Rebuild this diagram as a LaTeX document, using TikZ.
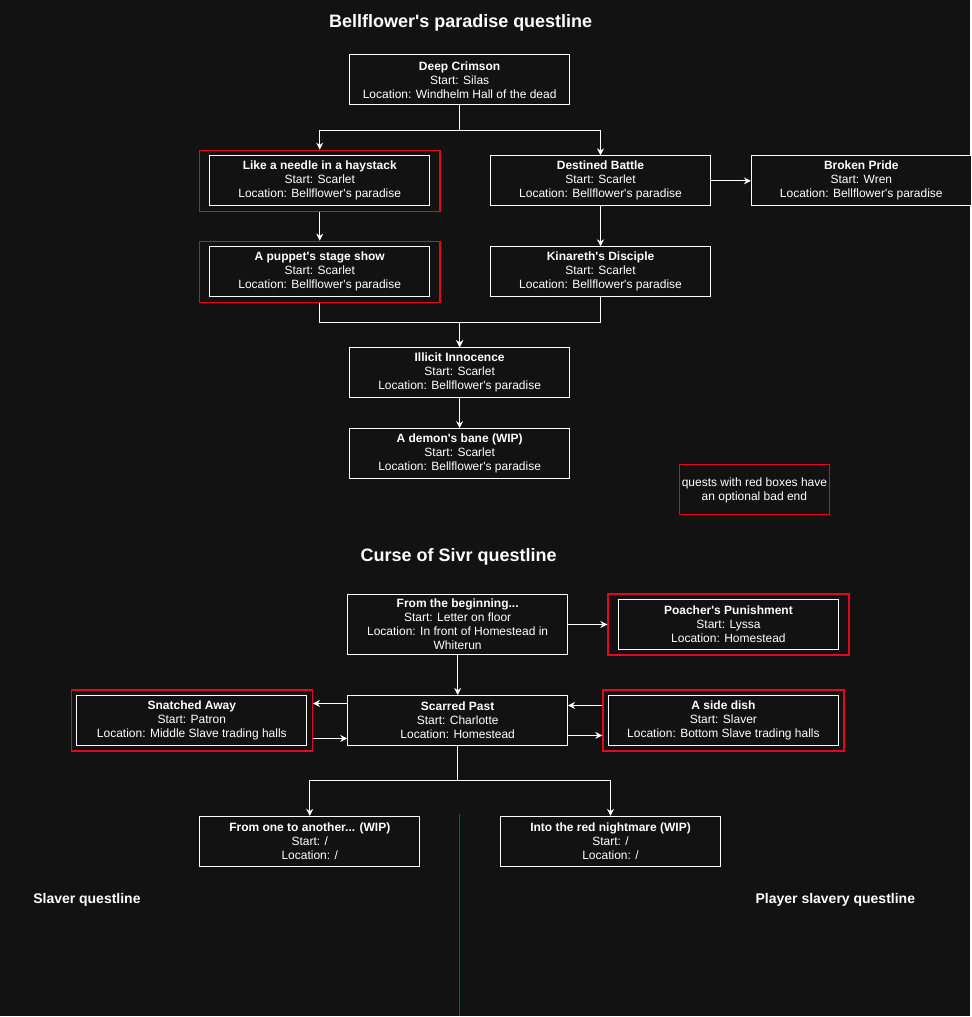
\documentclass[tikz,border=0pt]{standalone}
\usepackage{fontspec}
\setmainfont{Liberation Sans}[Ligatures=TeXOff]
\usetikzlibrary{arrows.meta,positioning,fit}
\definecolor{Ink}{HTML}{121212}
\definecolor{Alarm}{HTML}{E8061E}
\definecolor{Divider}{HTML}{B8122C}
\tikzset{
  arr/.style={-{Stealth[length=7pt,width=7pt]},line width=1pt,draw=white},
  questbox/.style={draw=white,line width=1pt,fill=Ink,text=white,minimum width=220pt,minimum height=50pt,align=center,inner sep=1pt,font=\fontsize{12}{14}\selectfont},
  widebox/.style={minimum width=230pt},
  redframe/.style={draw=Alarm,line width=1.4pt,inner xsep=10pt,inner ysep=5pt},
  tightframe/.style={redframe,inner xsep=5pt},
  heading/.style={text=white,font=\fontsize{18}{21}\selectfont\bfseries},
  sidelabel/.style={text=white,font=\fontsize{14}{16}\selectfont\bfseries}
}
\begin{document}
\begin{tikzpicture}[x=1pt,y=-1pt]
  \fill[Ink] (0,0) rectangle (971,1017);
  % Bellflower's paradise
  \node[heading] (titleA) at (461,23) {Bellflower's paradise questline};
  \node[questbox] (deep) at (460,80) {\textbf{Deep Crimson}\\Start: Silas\\Location: Windhelm Hall of the dead};
  \node[questbox,below=50pt of deep,xshift=-140pt] (needle) {\textbf{Like a needle in a haystack}\\Start: Scarlet\\Location: Bellflower's paradise};
  \node[redframe,fit=(needle)] (needleR) {};
  \node[questbox,right=60pt of needle] (destined) {\textbf{Destined Battle}\\Start: Scarlet\\Location: Bellflower's paradise};
  \node[questbox,right=40pt of destined] (broken) {\textbf{Broken Pride}\\Start: Wren\\Location: Bellflower's paradise};
  \node[questbox,below=40pt of needle] (puppet) {\textbf{A puppet's stage show}\\Start: Scarlet\\Location: Bellflower's paradise};
  \node[redframe,fit=(puppet)] (puppetR) {};
  \node[questbox,below=40pt of destined] (kinareth) {\textbf{Kinareth's Disciple}\\Start: Scarlet\\Location: Bellflower's paradise};
  \node[questbox,below=50pt of puppet,xshift=140pt] (illicit) {\textbf{Illicit Innocence}\\Start: Scarlet\\Location: Bellflower's paradise};
  \node[questbox,below=30pt of illicit] (demon) {\textbf{A demon's bane (WIP)}\\Start: Scarlet\\Location: Bellflower's paradise};
  \node[draw=Alarm,line width=1.4pt,text=white,minimum width=150pt,minimum height=50pt,align=center,inner sep=1pt,font=\fontsize{12}{14}\selectfont] (legend) at (755,490) {\strut quests with red boxes have\\an optional bad end};
  \draw[arr] (deep.south) -- ++(0,25) -| (needleR);
  \draw[arr] (deep.south) -- ++(0,25) -| (destined);
  \draw[arr] (destined) -- (broken);
  \draw[arr] (needleR) -- (puppetR);
  \draw[arr] (destined) -- (kinareth);
  \draw[arr] (puppetR.south) -- ++(0,20) -| (illicit);
  \draw[arr] (kinareth.south) -- ++(0,25) -| (illicit);
  \draw[arr] (illicit) -- (demon);
  % Curse of Sivr
  \node[heading] (titleB) at (459,557) {Curse of Sivr questline};
  \node[questbox,minimum height=60pt] (begin) at (458,625) {\textbf{From the beginning...}\\Start: Letter on floor\\Location: In front of Homestead in\\Whiterun};
  \node[questbox,right=50pt of begin] (poacher) {\textbf{Poacher's Punishment}\\Start: Lyssa\\Location: Homestead};
  \node[redframe,fit=(poacher)] (poacherR) {};
  \node[questbox,below=40pt of begin] (scarred) {\textbf{Scarred Past}\\Start: Charlotte\\Location: Homestead};
  \node[questbox,widebox,left=40pt of scarred] (snatched) {\textbf{Snatched Away}\\Start: Patron\\Location: Middle Slave trading halls};
  \node[tightframe,fit=(snatched)] (snatchedR) {};
  \node[questbox,widebox,right=40pt of scarred] (sidedish) {\textbf{A side dish}\\Start: Slaver\\Location: Bottom Slave trading halls};
  \node[tightframe,fit=(sidedish)] (sidedishR) {};
  \node[questbox,below=70pt of scarred,xshift=-148pt] (oneanother) {\textbf{From one to another... (WIP)}\\Start: /\\Location: /};
  \node[questbox,right=80pt of oneanother] (nightmare) {\textbf{Into the red nightmare (WIP)}\\Start: /\\Location: /};
  \node[sidelabel] (slaverlbl) at (87,901) {Slaver questline};
  \node[sidelabel] (playerlbl) at (836,901) {Player slavery questline};
  \draw[Divider,line width=1.6pt] (460,815) -- (460,1017);
  \draw[arr] (begin) -- (poacherR);
  \draw[arr] (begin) -- (scarred);
  \draw[arr] ([yshift=17pt]scarred.west) -- ([yshift=17pt]snatchedR.east);
  \draw[arr] ([yshift=-18pt]snatchedR.east) -- ([yshift=-18pt]scarred.west);
  \draw[arr] ([yshift=15pt]sidedishR.west) -- ([yshift=15pt]scarred.east);
  \draw[arr] ([yshift=-15pt]scarred.east) -- ([yshift=-15pt]sidedishR.west);
  \draw[arr] (scarred.south) -- ++(0,35) -| (oneanother);
  \draw[arr] (scarred.south) -- ++(0,35) -| (nightmare);
\end{tikzpicture}
\end{document}
